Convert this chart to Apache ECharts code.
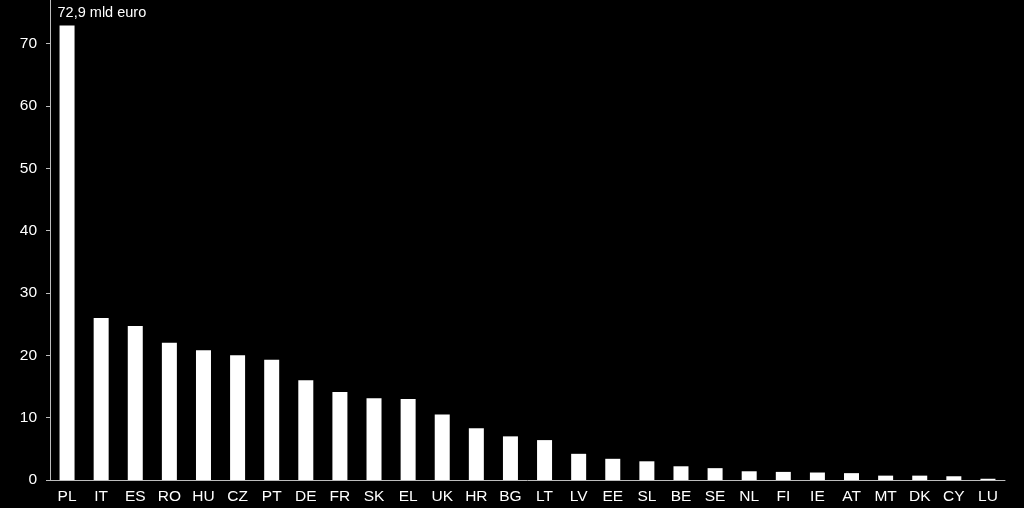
<!DOCTYPE html>
<html><head><meta charset="utf-8">
<script src="https://cdn.jsdelivr.net/npm/echarts@6/dist/echarts.min.js"></script>
<style>html,body{margin:0;padding:0;background:#000;}#c{width:1024px;height:508px;}</style>
</head><body><div id="c"></div>
<script>
var categories = ['PL','IT','ES','RO','HU','CZ','PT','DE','FR','SK','EL','UK','HR','BG','LT','LV','EE','SL','BE','SE','NL','FI','IE','AT','MT','DK','CY','LU'];
var values = [72.9,26.0,24.7,22.0,20.8,20.0,19.3,16.0,14.1,13.1,13.0,10.5,8.3,7.0,6.4,4.2,3.4,3.0,2.2,1.9,1.4,1.3,1.2,1.1,0.7,0.7,0.6,0.2];
var topLabel = '72,9 mld euro';

var seriesData = values.map(function(v,i){
  if(i===0){
    return {value:v,label:{show:true,position:[-2,-20],align:'left',verticalAlign:'top',formatter:topLabel,color:'#fff',fontSize:14.5,fontFamily:'Liberation Sans'}};
  }
  return v;
});
var chart = echarts.init(document.getElementById('c'));
chart.setOption({
  backgroundColor:'#000',
  animation:false,
  grid:{left:50,right:19,top:0,bottom:28},
  xAxis:{type:'category',data:categories,
    axisLine:{lineStyle:{color:'#bdbdbd',width:1}},
    axisTick:{show:false},
    axisLabel:{color:'#fff',fontSize:15.5,fontFamily:'Liberation Sans',margin:9,interval:0}},
  yAxis:{type:'value',min:0,max:77,interval:10,
    splitLine:{show:false},
    axisLine:{show:true,lineStyle:{color:'#bdbdbd',width:1}},
    axisTick:{show:true,length:4,lineStyle:{color:'#bdbdbd'}},
    axisLabel:{color:'#fff',fontSize:15.5,fontFamily:'Liberation Sans',margin:13,showMaxLabel:false}},
  series:[{type:'bar',data:seriesData,barWidth:15,itemStyle:{color:'#fff'}}]
});
</script></body></html>
